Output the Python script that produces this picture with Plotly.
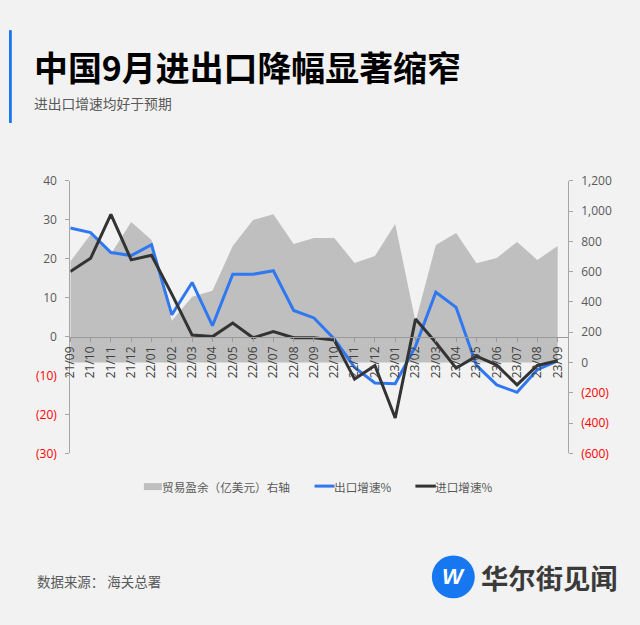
import plotly.graph_objects as go

months = ["21/09", "21/10", "21/11", "21/12", "22/01", "22/02", "22/03", "22/04",
          "22/05", "22/06", "22/07", "22/08", "22/09", "22/10", "22/11", "22/12",
          "23/01", "23/02", "23/03", "23/04", "23/05", "23/06", "23/07", "23/08", "23/09"]
surplus = [667, 845, 717, 928, 809, 276, 434, 474, 770, 941, 980, 783, 822, 822,
           658, 704, 914, 270, 776, 855, 656, 691, 796, 678, 770]
export_growth = [27.9, 26.7, 21.6, 20.8, 23.6, 5.6, 13.9, 2.8, 16.0, 16.0, 16.9, 6.7,
                 4.8, -0.6, -7.9, -11.9, -12.1, -2.5, 11.4, 7.5, -7.4, -12.4, -14.3, -8.5, -6.2]
import_growth = [16.7, 20.1, 31.4, 19.7, 20.9, 10.9, 0.4, 0.0, 3.5, -0.3, 1.3, -0.3,
                 -0.3, -0.9, -10.9, -7.4, -20.9, 4.5, -1.5, -8.1, -5.0, -7.3, -12.4, -7.4, -6.2]

left_ticks = [40, 30, 20, 10, 0, -10, -20, -30]
right_ticks = [1200, 1000, 800, 600, 400, 200, 0, -200, -400, -600]

W, H = 640, 625
# the page keeps the browser's 8px body margin (page 648x641) and the photo is
# resized to 640x625; positions below are photo pixels converted to figure pixels
SX, SY, M = 640 / 648, 625 / 641, 8
def gx(p):
    return p / SX - M
def gy(p):
    return p / SY - M
def fx(p):
    return gx(p) / W
def fy(p):
    return 1 - gy(p) / H
def fs(s):
    return s / SX

BG = "#f2f2f2"
RED = "#ff0000"
GREY_TXT = "#595959"
BLUE = "#1677f0"
CJK = "Noto Sans CJK SC"
NUM = "Open Sans"

def fmt_left(v):
    return f'<span style="color:{RED}">({abs(v)})</span>' if v < 0 else str(v)
def fmt_right(v):
    return f'<span style="color:{RED}">({abs(v):,})</span>' if v < 0 else f"{v:,}"

fig = go.Figure()
fig.add_trace(go.Scatter(x=months, y=surplus, yaxis="y", mode="lines",
                         line=dict(width=0, color="#bfbfbf"), fill="tozeroy",
                         fillcolor="#bfbfbf", name="贸易盈余（亿美元）右轴"))
fig.add_trace(go.Scatter(x=months, y=export_growth, yaxis="y2", mode="lines",
                         line=dict(width=3, color="#2f78f2"), name="出口增速%"))
fig.add_trace(go.Scatter(x=months, y=import_growth, yaxis="y2", mode="lines",
                         line=dict(width=3, color="#333333"), name="进口增速%"))

x0, x1 = 69.3, 567.7
ytop, ybot = 180.0, 453.3
zero_px = ybot - 30 / 70 * (ybot - ytop)

fig.update_layout(
    width=W, height=H, autosize=False,
    margin=dict(l=0, r=0, t=0, b=0),
    paper_bgcolor=BG, plot_bgcolor=BG,
    showlegend=False,
    xaxis=dict(type="category", domain=[fx(x0), fx(x1)], range=[0, 24.5],
               anchor="free", position=fy(zero_px),
               showline=True, linecolor="#999999", linewidth=1,
               ticks="outside", ticklen=4, tickcolor="#999999",
               tickangle=-90, showgrid=False, zeroline=False,
               tickfont=dict(family=NUM, size=12, color="#404040")),
    yaxis=dict(domain=[fy(ybot), fy(ytop)], range=[-600, 1200],
               side="right", anchor="x",
               tickvals=right_ticks, ticktext=[fmt_right(v) for v in right_ticks],
               showline=True, linecolor="#a6a6a6", linewidth=1,
               ticks="outside", ticklen=4, tickcolor="#a6a6a6",
               showgrid=False, zeroline=False, ticklabelstandoff=6,
               tickfont=dict(family=NUM, size=12, color=GREY_TXT)),
    yaxis2=dict(domain=[fy(ybot), fy(ytop)], range=[-30, 40], overlaying="y",
                side="left", anchor="x",
                tickvals=left_ticks, ticktext=[fmt_left(v) for v in left_ticks],
                showline=True, linecolor="#a6a6a6", linewidth=1,
                ticks="outside", ticklen=4, tickcolor="#a6a6a6",
                showgrid=False, zeroline=False, ticklabelstandoff=6,
                tickfont=dict(family=NUM, size=12, color=GREY_TXT)),
)

shapes = [
    dict(type="rect", xref="paper", yref="paper", x0=0, x1=fx(10.7), y0=fy(122), y1=fy(29),
         fillcolor=BLUE, line=dict(width=0)),
    dict(type="rect", xref="paper", yref="paper", x0=fx(143), x1=fx(161), y0=fy(490), y1=fy(483),
         fillcolor="#bfbfbf", line=dict(width=0)),
    dict(type="line", xref="paper", yref="paper", x0=fx(314), x1=fx(334), y0=fy(486), y1=fy(486),
         line=dict(width=3, color="#2f78f2")),
    dict(type="line", xref="paper", yref="paper", x0=fx(415), x1=fx(435.5), y0=fy(486), y1=fy(486),
         line=dict(width=3, color="#333333")),
    dict(type="circle", xref="paper", yref="paper", x0=fx(431.5), x1=fx(474.5), y0=fy(598.5), y1=fy(555.5),
         fillcolor=BLUE, line=dict(width=0)),
]
fig.update_layout(shapes=shapes)

def ann(text, x, y, size, color, family=CJK, xanchor="left"):
    xx = fx(x) - (4 / W if xanchor == "left" else 0)
    return dict(text=text, x=xx, y=fy(y), xref="paper", yref="paper",
                xanchor=xanchor, yanchor="middle", showarrow=False,
                font=dict(family=family, size=fs(size), color=color))

annotations = [
    ann("<b>中国9月进出口降幅显著缩窄</b>", 35, 65, 33.5, "#000000"),
    ann("进出口增速均好于预期", 35, 102, 13.6, GREY_TXT),
    ann("贸易盈余（亿美元）右轴", 163, 486.5, 11.5, GREY_TXT),
    ann("出口增速%", 335, 486.5, 11.5, GREY_TXT),
    ann("进口增速%", 436.5, 486.5, 11.5, GREY_TXT),
    ann("数据来源： 海关总署", 38, 581, 13.3, GREY_TXT),
    ann("<b><i>W</i></b>", 453, 577, 22, "#ffffff", family="Liberation Sans", xanchor="center"),
    ann("<b>华尔街见闻</b>", 483, 577, 27, "#3a3a3a"),
]
fig.update_layout(annotations=annotations)

# page background outside the figure (the 8px body margin), including the part
# of the accent bar that falls inside that margin; set on body so it propagates
# to the whole canvas (as it did when tested earlier)
page_bg = ("document.body.style.background="
           "'linear-gradient(%s,%s) 0px 30px / 11px 95px no-repeat, %s';" % (BLUE, BLUE, BG))
fig.write_html("out.html", post_script=page_bg)
